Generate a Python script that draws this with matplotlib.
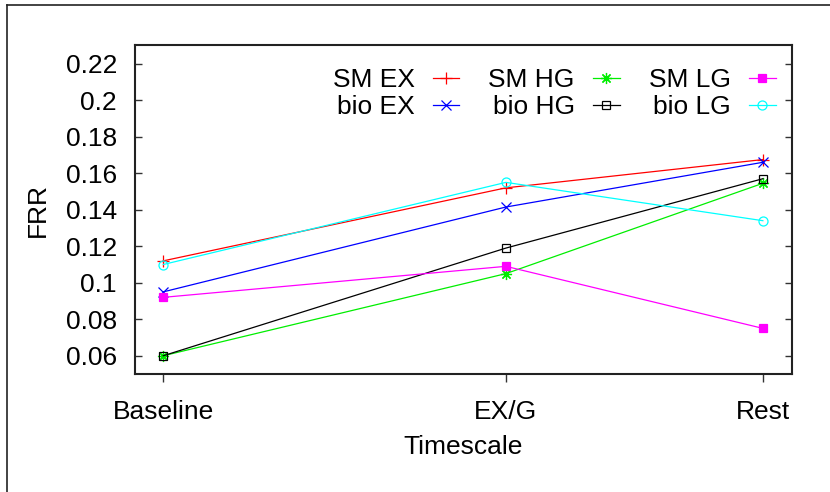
import matplotlib
matplotlib.use("Agg")
import matplotlib.pyplot as plt
from matplotlib.lines import Line2D

plt.rcParams['font.family'] = ['Liberation Sans', 'DejaVu Sans']

categories = ["Baseline", "EX/G", "Rest"]
cat_pos = [0, 4, 7]

sm_ex = [0.112, 0.152, 0.1675]
bio_ex = [0.095, 0.1415, 0.166]
sm_hg = [0.060, 0.105, 0.1545]
bio_hg = [0.060, 0.119, 0.157]
sm_lg = [0.092, 0.109, 0.075]
bio_lg = [0.110, 0.155, 0.134]

yticks = [0.06, 0.08, 0.10, 0.12, 0.14, 0.16, 0.18, 0.20, 0.22]

FS = 19

fig = plt.figure(figsize=(8.30, 4.92), dpi=100)
ax = fig.add_axes([135 / 830, 1 - 374 / 492, (792 - 135) / 830, (374 - 45.5) / 492])

series = [
    ("SM EX", sm_ex, dict(color="#ff0000", marker="+", ms=9, mfc="none")),
    ("bio EX", bio_ex, dict(color="#0000ff", marker="x", ms=7, mfc="none")),
    ("SM HG", sm_hg, dict(color="#00ee00", marker=(8, 2, 0), ms=8, mfc="none")),
    ("bio HG", bio_hg, dict(color="#000000", marker="s", ms=6, mfc="none")),
    ("SM LG", sm_lg, dict(color="#ff00ff", marker="s", ms=6, mfc="#ff00ff")),
    ("bio LG", bio_lg, dict(color="#00ffff", marker="o", ms=6.5, mfc="none")),
]
for label, vals, style in series:
    ax.plot(cat_pos, vals, lw=0.9, mew=0.9, label=label, **style)

ax.set_xlim(-0.33, 7.34)
ax.set_ylim(0.05, 0.23)
ax.set_xticks(cat_pos)
ax.set_xticklabels(categories)
ax.set_yticks(yticks)
ax.set_yticklabels([f"{v:g}" for v in yticks])
ax.tick_params(axis="y", direction="in", length=5, width=1, right=True,
               labelsize=FS, pad=13, color="#333333")
ax.tick_params(axis="x", direction="out", length=6, width=1,
               labelsize=FS, pad=13, color="#333333")
for sp in ax.spines.values():
    sp.set_linewidth(1.5)
    sp.set_color("#222222")

ax.set_xlabel("Timescale", fontsize=FS, labelpad=8)
ax.set_ylabel("FRR", fontsize=FS, labelpad=11)

ax.legend(ncol=3, loc="upper right", bbox_to_anchor=(0.975, 0.93),
          frameon=False, fontsize=FS, markerfirst=False,
          handlelength=1.0, handletextpad=0.7, columnspacing=1.1,
          labelspacing=0.1, borderaxespad=0, borderpad=0)

# page frame
fig.add_artist(Line2D([7 / 830, 7 / 830], [0, 1 - 4.5 / 492], color="#222222", lw=1.2))
fig.add_artist(Line2D([7 / 830, 1], [1 - 4.5 / 492, 1 - 4.5 / 492], color="#222222", lw=1.2))

fig.savefig("out.png", dpi=100)
